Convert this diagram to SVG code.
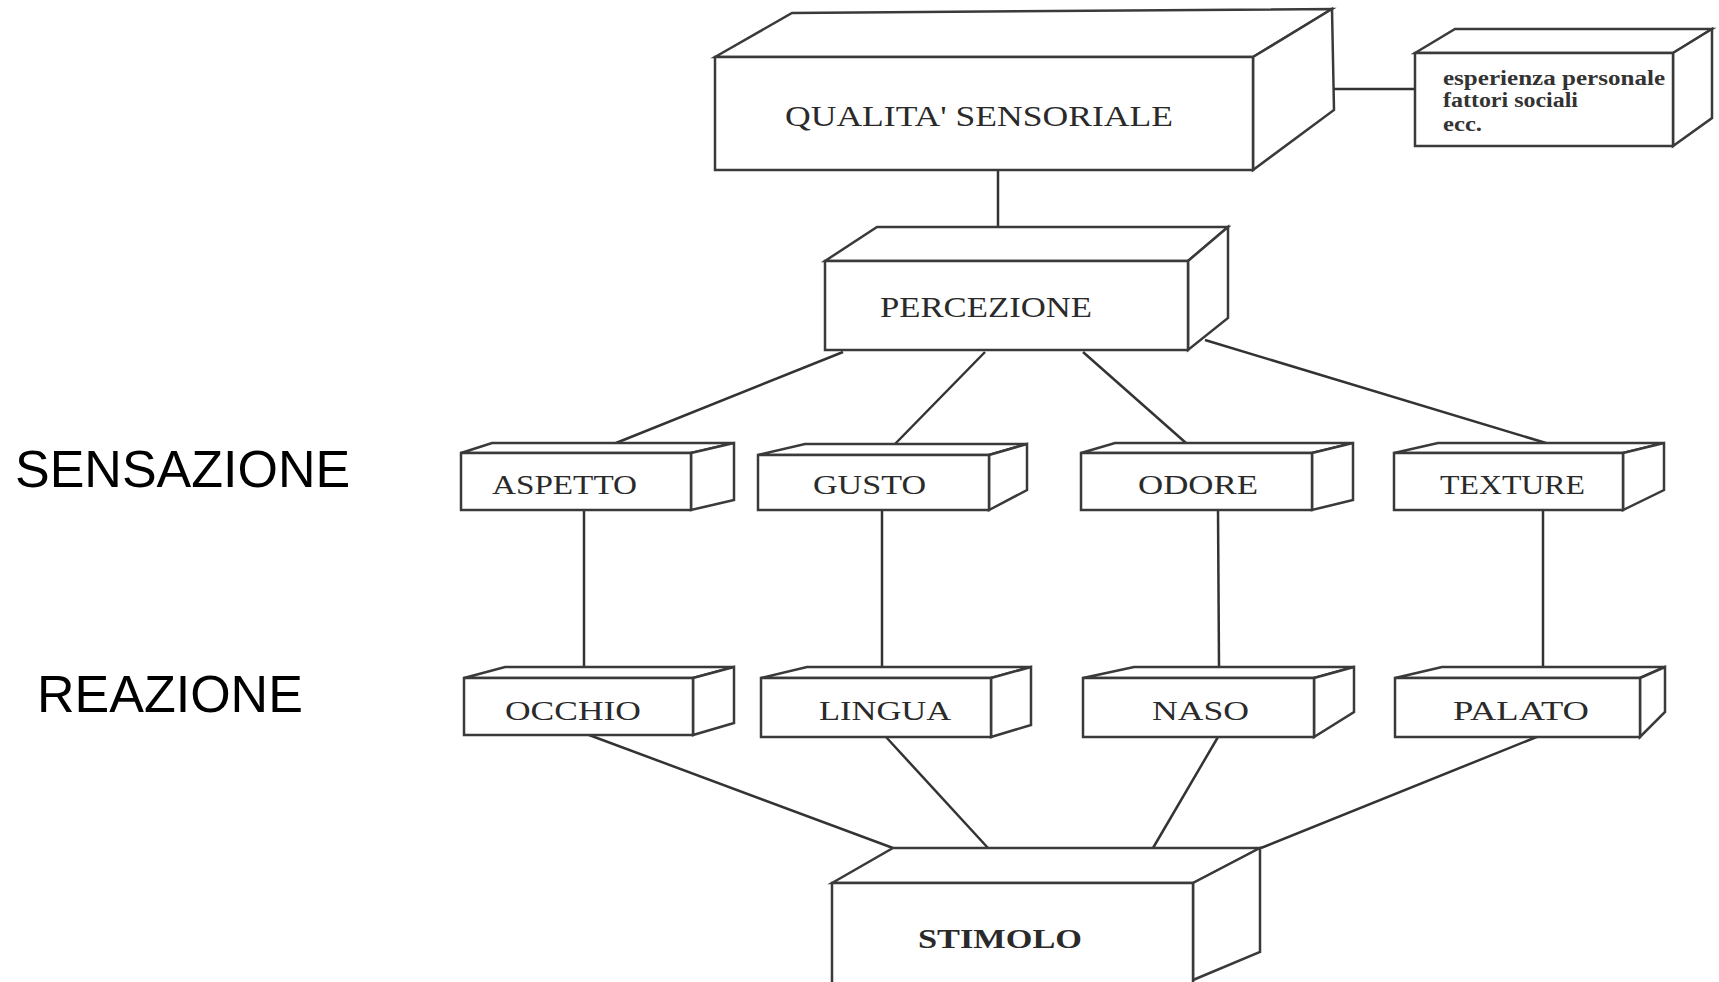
<svg xmlns="http://www.w3.org/2000/svg" width="1719" height="982" viewBox="0 0 1719 982">
<style>
.box path{fill:#fff;stroke:#3a3a3a;stroke-width:2.5;stroke-linejoin:miter}
.lbl{font-family:"Liberation Serif","Times New Roman",serif;font-size:28px;fill:#2a2a2a}
.big{font-size:30px}
.small{font-family:"Liberation Serif","Times New Roman",serif;font-size:20px;font-weight:bold;fill:#333}
.side{font-family:"Liberation Sans",Arial,sans-serif;font-size:52px;fill:#000}
#connectors line{stroke:#333;stroke-width:2.5}
</style>
<rect width="1719" height="982" fill="#fff"/>
<g id="connectors">
<line x1="998" y1="170" x2="998" y2="227"/>
<line x1="1293" y1="89" x2="1415" y2="89"/>
<line x1="843" y1="352" x2="616" y2="443"/>
<line x1="985" y1="352" x2="895" y2="444"/>
<line x1="1083" y1="352" x2="1186" y2="443"/>
<line x1="1205" y1="340" x2="1546" y2="443"/>
<line x1="584" y1="510" x2="584" y2="667"/>
<line x1="882" y1="510" x2="882" y2="667"/>
<line x1="1218" y1="510" x2="1219" y2="667"/>
<line x1="1543" y1="510" x2="1543" y2="667"/>
<line x1="589" y1="735" x2="893" y2="848"/>
<line x1="886" y1="737" x2="988" y2="848"/>
<line x1="1218" y1="737" x2="1153" y2="848"/>
<line x1="1539" y1="736" x2="1261" y2="848"/>
</g>
<g id="qualita" class="box">
<path d="M715 57 L792 13 L1332 9 L1253 57 Z"/>
<path d="M1253 57 L1332 9 L1334 110 L1253 170 Z"/>
<path d="M715 57 H1253 V170 H715 Z"/>
<text class="lbl big" x="785" y="126" textLength="388" lengthAdjust="spacingAndGlyphs">QUALITA' SENSORIALE</text>
</g>
<g id="fattori" class="box">
<path d="M1415 53 L1455 29 L1712 29 L1673 53 Z"/>
<path d="M1673 53 L1712 29 L1712 118 L1673 146 Z"/>
<path d="M1415 53 H1673 V146 H1415 Z"/>
<text class="small" x="1443" y="85" textLength="222" lengthAdjust="spacingAndGlyphs">esperienza personale</text>
<text class="small" x="1443" y="107" textLength="135" lengthAdjust="spacingAndGlyphs">fattori sociali</text>
<text class="small" x="1443" y="131" textLength="39" lengthAdjust="spacingAndGlyphs">ecc.</text>
</g>
<g id="percezione" class="box">
<path d="M825 261 L877 227 L1228 227 L1188 261 Z"/>
<path d="M1188 261 L1228 227 L1228 318 L1188 350 Z"/>
<path d="M825 261 H1188 V350 H825 Z"/>
<text class="lbl big" x="880" y="317" textLength="212" lengthAdjust="spacingAndGlyphs">PERCEZIONE</text>
</g>
<g id="aspetto" class="box">
<path d="M461 453 L492 443 L734 443 L691 453 Z"/>
<path d="M691 453 L734 443 L734 500 L691 510 Z"/>
<path d="M461 453 H691 V510 H461 Z"/>
<text class="lbl" x="492" y="494" textLength="145" lengthAdjust="spacingAndGlyphs">ASPETTO</text>
</g>
<g id="gusto" class="box">
<path d="M758 455 L805 444 L1027 444 L989 455 Z"/>
<path d="M989 455 L1027 444 L1027 490 L989 510 Z"/>
<path d="M758 455 H989 V510 H758 Z"/>
<text class="lbl" x="813" y="494" textLength="113" lengthAdjust="spacingAndGlyphs">GUSTO</text>
</g>
<g id="odore" class="box">
<path d="M1081 453 L1115 443 L1353 443 L1312 453 Z"/>
<path d="M1312 453 L1353 443 L1353 500 L1312 510 Z"/>
<path d="M1081 453 H1312 V510 H1081 Z"/>
<text class="lbl" x="1138" y="494" textLength="120" lengthAdjust="spacingAndGlyphs">ODORE</text>
</g>
<g id="texture" class="box">
<path d="M1394 453 L1438 443 L1664 443 L1623 453 Z"/>
<path d="M1623 453 L1664 443 L1664 490 L1623 510 Z"/>
<path d="M1394 453 H1623 V510 H1394 Z"/>
<text class="lbl" x="1440" y="494" textLength="145" lengthAdjust="spacingAndGlyphs">TEXTURE</text>
</g>
<g id="occhio" class="box">
<path d="M464 678 L505 667 L734 667 L693 678 Z"/>
<path d="M693 678 L734 667 L734 723 L693 735 Z"/>
<path d="M464 678 H693 V735 H464 Z"/>
<text class="lbl" x="505" y="720" textLength="136" lengthAdjust="spacingAndGlyphs">OCCHIO</text>
</g>
<g id="lingua" class="box">
<path d="M761 678 L807 667 L1031 667 L991 678 Z"/>
<path d="M991 678 L1031 667 L1031 725 L991 737 Z"/>
<path d="M761 678 H991 V737 H761 Z"/>
<text class="lbl" x="819" y="720" textLength="132" lengthAdjust="spacingAndGlyphs">LINGUA</text>
</g>
<g id="naso" class="box">
<path d="M1083 678 L1134 667 L1354 667 L1314 678 Z"/>
<path d="M1314 678 L1354 667 L1354 712 L1314 737 Z"/>
<path d="M1083 678 H1314 V737 H1083 Z"/>
<text class="lbl" x="1152" y="720" textLength="97" lengthAdjust="spacingAndGlyphs">NASO</text>
</g>
<g id="palato" class="box">
<path d="M1395 678 L1442 667 L1665 667 L1640 678 Z"/>
<path d="M1640 678 L1665 667 L1665 712 L1640 737 Z"/>
<path d="M1395 678 H1640 V737 H1395 Z"/>
<text class="lbl" x="1453" y="720" textLength="136" lengthAdjust="spacingAndGlyphs">PALATO</text>
</g>
<g id="stimolo" class="box">
<path d="M832 883 L893 848 L1260 848 L1193 883 Z"/>
<path d="M1193 883 L1260 848 L1260 952 L1193 980 Z"/>
<path d="M832 883 H1193 V995 H832 Z"/>
<text class="lbl" x="918" y="948" font-weight="bold" font-size="27" textLength="164" lengthAdjust="spacingAndGlyphs">STIMOLO</text>
</g>
<g id="sensazione">
<text class="side" x="15" y="487">SENSAZIONE</text>
</g>
<g id="reazione">
<text class="side" x="37" y="712">REAZIONE</text>
</g>
</svg>
